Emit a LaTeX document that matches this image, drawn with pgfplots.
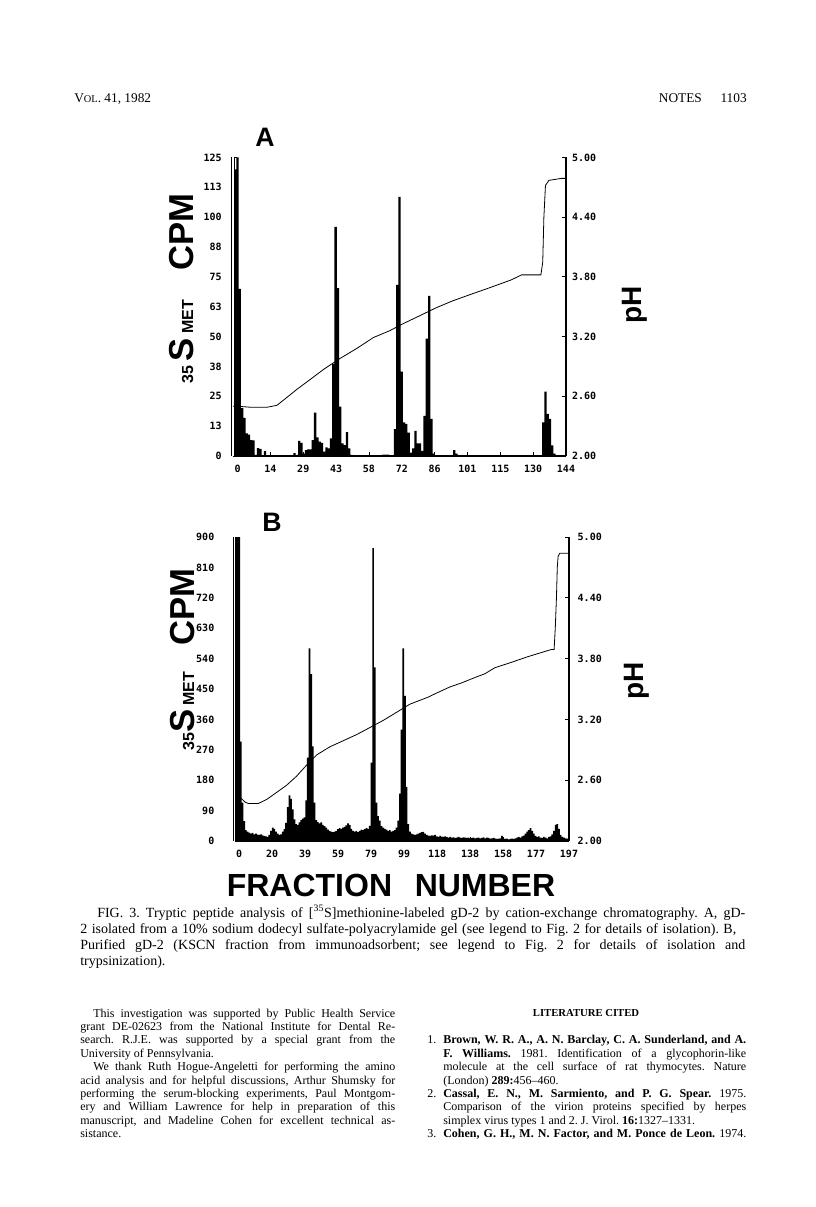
\documentclass[border=0pt]{standalone}
\usepackage{fontspec}
\setmainfont{Liberation Serif}
\newfontfamily\hv{Liberation Sans}
\newfontfamily\tkf{DejaVu Sans Mono}
\usepackage{pgfplots}
\pgfplotsset{compat=1.18}

\newcommand{\tickfont}{\tkf\bfseries\fontsize{7.5}{8}\selectfont}
\newcommand{\lbl}[1]{{\hv\bfseries\fontsize{26}{26}\selectfont #1}}
\newcommand{\sml}[1]{{\hv\bfseries\fontsize{12}{12}\selectfont #1}}

\pgfplotsset{
  chrom/.style={scale only axis, axis x line=bottom, axis y line=left,
    axis line style={-, line width=0.9pt},
    y axis line style={double, double distance=1.3pt, line width=0.6pt},
    tick align=inside, major tick length=3.2pt,
    every tick/.style={black, line width=0.6pt},
    ticklabel style={font=\tickfont}, xticklabel style={yshift=-3pt}},
  phax/.style={scale only axis, axis x line=none, axis y line=right,
    axis line style={-, line width=0.9pt}, tick align=inside, major tick length=3pt,
    every tick/.style={black, line width=0.6pt},
    ymin=2, ymax=5, xtick=\empty,
    ytick={2,2.6,3.2,3.8,4.4,5}, yticklabels={2.00,2.60,3.20,3.80,4.40,5.00},
    ticklabel style={font=\tickfont}},
}

\begin{document}
\frenchspacing
\begin{tikzpicture}
\begin{scope}[x=0.75pt,y=-0.75pt]
\fill[white] (0,0) rectangle (816,1207);
\coordinate (A0) at (233,456);
\coordinate (B0) at (235,841);

% running head
\node[anchor=base west, inner sep=0, font=\fontsize{10}{12}\selectfont] at (74,102) {V{\fontsize{7.8}{9}\selectfont OL}. 41, 1982};
\node[anchor=base east, inner sep=0, font=\fontsize{10}{12}\selectfont] at (747,102) {NOTES\hspace{14pt}1103};

% panel letters and axis titles
\node[font=\hv\bfseries\fontsize{20}{20}\selectfont] at (265,137) {A};
\node[font=\hv\bfseries\fontsize{20}{20}\selectfont] at (272,522) {B};
\node[rotate=90, anchor=base west, inner sep=0] at (193,384) {\sml{35}\hspace{3pt}\lbl{S}\hspace{4pt}\sml{MET}\hspace{22pt}\lbl{CPM}};
\node[rotate=90, anchor=base west, inner sep=0] at (194,751) {\sml{35}\lbl{S}\hspace{3pt}\sml{MET}\hspace{20pt}\lbl{CPM}};
\node[rotate=90, font=\hv\bfseries\fontsize{21}{21}\selectfont] at (635,305) {pH};
\node[rotate=90, font=\hv\bfseries\fontsize{21}{21}\selectfont] at (637,681) {pH};
\node[font=\hv\bfseries\fontsize{24}{24}\selectfont] at (391,885) {FRACTION\hspace{17pt}NUMBER};

% caption
\begin{scope}[every node/.style={anchor=base west, inner sep=0, font=\fontsize{10.5}{12}\selectfont}]
\node at (97,917) {\makebox[486pt][s]{FIG. 3. Tryptic peptide analysis of [\textsuperscript{35}S]methionine-labeled gD-2 by cation-exchange chromatography. A, gD-}};
\node at (80,933.3) {\makebox[492pt][s]{2 isolated from a 10\% sodium dodecyl sulfate-polyacrylamide gel (see legend to Fig. 2 for details of isolation). B,}};
\node at (80,949.6) {\makebox[498.75pt][s]{Purified gD-2 (KSCN fraction from immunoadsorbent; see legend to Fig. 2 for details of isolation and}};
\node at (80,965.9) {trypsinization).};
\end{scope}

% left column
\begin{scope}[every node/.style={anchor=base west, inner sep=0, font=\fontsize{9}{10}\selectfont}]
\node at (93,1017) {\makebox[226.5pt][s]{This investigation was supported by Public Health Service}};
\node at (80,1030.4) {\makebox[236.25pt][s]{grant DE-02623 from the National Institute for Dental Re-}};
\node at (80,1043.8) {\makebox[236.25pt][s]{search. R.J.E. was supported by a special grant from the}};
\node at (80,1057.2) {University of Pennsylvania.};
\node at (93,1070.6) {\makebox[226.5pt][s]{We thank Ruth Hogue-Angeletti for performing the amino}};
\node at (80,1084) {\makebox[236.25pt][s]{acid analysis and for helpful discussions, Arthur Shumsky for}};
\node at (80,1097.4) {\makebox[236.25pt][s]{performing the serum-blocking experiments, Paul Montgom-}};
\node at (80,1110.8) {\makebox[236.25pt][s]{ery and William Lawrence for help in preparation of this}};
\node at (80,1124.2) {\makebox[236.25pt][s]{manuscript, and Madeline Cohen for excellent technical as-}};
\node at (80,1137.6) {sistance.};
% right column
\node[anchor=base, font=\bfseries\fontsize{8}{10}\selectfont] at (586,1016) {LITERATURE CITED};
\node at (427,1043.8) {1.};
\node at (443,1043.8) {\makebox[227.25pt][s]{\textbf{Brown, W. R. A., A. N. Barclay, C. A. Sunderland, and A.}}};
\node at (443,1057.2) {\makebox[227.25pt][s]{\textbf{F. Williams.} 1981. Identification of a glycophorin-like}};
\node at (443,1070.6) {\makebox[227.25pt][s]{molecule at the cell surface of rat thymocytes. Nature}};
\node at (443,1084) {(London) \textbf{289:}456--460.};
\node at (427,1097.4) {2.};
\node at (443,1097.4) {\makebox[227.25pt][s]{\textbf{Cassal, E. N., M. Sarmiento, and P. G. Spear.} 1975.}};
\node at (443,1110.8) {\makebox[227.25pt][s]{Comparison of the virion proteins specified by herpes}};
\node at (443,1124.2) {simplex virus types 1 and 2. J. Virol. \textbf{16:}1327--1331.};
\node at (427,1137.6) {3.};
\node at (443,1137.6) {\makebox[227.25pt][s]{\textbf{Cohen, G. H., M. N. Factor, and M. Ponce de Leon.} 1974.}};
\end{scope}
\end{scope}

% ---------- panel A ----------
\begin{axis}[chrom, at={(A0)}, anchor=south west, width=249.75pt, height=223.9pt,
  xmin=-2, xmax=144, ymin=0, ymax=125,
  xtick={0,14.4,28.8,43.2,57.6,72,86.4,100.8,115.2,129.6,144},
  xticklabels={0,14,29,43,58,72,86,101,115,130,144},
  ytick={0,12.5,25,37.5,50,62.5,75,87.5,100,112.5,125},
  yticklabels={0,13,25,38,50,63,75,88,100,113,125},
  yticklabel style={xshift=-5pt}]
\addplot[ybar, bar width=1, fill=black, draw=none] coordinates {
(-1,120) (0,125) (1,70) (2,20) (3,16) (4,9.5) (5,9) (6,6.7) (7,6.5) (8,0.5)
(9,3.3) (10,3) (11,0.3) (12,2) (25,1.2) (26,0.5) (27,6.3) (28,5.5) (29,1)
(30,2.5) (31,2.8) (32,2.8) (33,6.7) (34,18.2) (35,7.8) (36,6) (37,5.5) (38,1.8)
(39,3.6) (40,3.2) (41,7.4) (42,38.6) (43,95.9) (44,70.3) (45,20.7) (46,5.3)
(47,4.6) (48,10) (49,3.2) (50,0.5) (64,0.6) (65,0.6) (66,0.6)
(69,11.3) (70,71.7) (71,108.5) (72,35.3) (73,14.1) (74,13.5) (75,9.8) (76,1.4)
(77,3.2) (78,10.5) (79,5.3) (80,5.3) (81,2.1) (82,16.8) (83,49.1) (84,67.1)
(85,15.5) (86,1) (95,2.5) (96,1)
(134,14.1) (135,27) (136,17.6) (137,15.6) (138,4.5) (139,1)
};
\end{axis}
\begin{axis}[phax, at={(A0)}, anchor=south west, width=249.75pt, height=223.9pt,
  xmin=-2, xmax=144, yticklabel style={xshift=1pt}]
\addplot[black, line width=0.6pt] coordinates {
(-2,2.50) (0,2.50) (5.7,2.49) (13,2.49) (17.3,2.51) (21.7,2.59) (26,2.67)
(31.9,2.77) (37.7,2.87) (44.9,2.98) (52.2,3.08) (59.5,3.19) (66.8,3.26)
(72.6,3.33) (79.9,3.41) (87.1,3.49) (94.4,3.56) (101.7,3.62) (110.4,3.69)
(120,3.77) (124.5,3.82) (133,3.82) (133.8,3.95) (134.3,4.40) (135,4.72)
(136.5,4.77) (142,4.79) (144,4.79)
};
\end{axis}

% ---------- panel B ----------
\begin{axis}[chrom, at={(B0)}, anchor=south west, width=250.5pt, height=228pt,
  xmin=-2.5, xmax=197, ymin=0, ymax=900,
  xtick={0,19.7,39.4,59.1,78.8,98.5,118.2,137.9,157.6,177.3,197},
  xticklabels={0,20,39,59,79,99,118,138,158,177,197},
  ytick={0,90,180,270,360,450,540,630,720,810,900},
  yticklabels={0,90,180,270,360,450,540,630,720,810,900},
  yticklabel style={xshift=-12pt}]
\addplot[ybar, bar width=1, fill=black, draw=none] coordinates {
(-2,900) (-1,900) (0,900) (1,294) (2,114) (3,59) (4,32) (5,28) (6,25) (7,22)
(8,24) (9,20) (10,22) (11,19) (12,18) (13,20) (14,17) (15,15) (16,14) (17,12)
(18,18) (19,30) (20,40) (21,36) (22,28) (23,22) (24,18) (25,20) (26,28) (27,35)
(28,54) (29,100) (30,135) (31,125) (32,94) (33,64) (34,50) (35,48) (36,55) (37,62)
(38,66) (39,70) (40,120) (41,247) (42,570) (43,494) (44,280) (45,114) (46,62) (47,56)
(48,52) (49,55) (50,48) (51,44) (52,40) (53,34) (54,30) (55,28) (56,26) (57,28)
(58,30) (59,35) (60,38) (61,36) (62,40) (63,42) (64,46) (65,52) (66,48) (67,36)
(68,30) (69,28) (70,30) (71,26) (72,30) (73,34) (74,32) (75,35) (76,38) (77,36)
(78,45) (79,232) (80,867) (81,514) (82,114) (83,74) (84,60) (85,44) (86,40) (87,36)
(88,34) (89,30) (90,32) (91,28) (92,30) (93,32) (94,40) (95,60) (96,140) (97,330)
(98,570) (99,430) (100,160) (101,50) (102,28) (103,22) (104,20) (105,18) (106,20) (107,22)
(108,24) (109,26) (110,27) (111,22) (112,18) (113,16) (114,15) (115,17) (116,16) (117,18)
(118,14) (119,12) (120,15) (121,13) (122,12) (123,14) (124,12) (125,10) (126,12) (127,10)
(128,11) (129,9) (130,10) (131,12) (132,10) (133,9) (134,11) (135,10) (136,9) (137,10)
(138,8) (139,9) (140,10) (141,8) (142,9) (143,10) (144,8) (145,9) (146,11) (147,8)
(148,10) (149,9) (150,7) (151,8) (152,9) (153,7) (154,6) (155,7) (156,8) (157,15)
(158,7) (159,6) (160,7) (161,5) (162,6) (163,7) (164,6) (165,8) (166,10) (167,12)
(168,10) (169,14) (170,16) (171,22) (172,28) (173,32) (174,38) (175,30) (176,22) (177,15)
(178,12) (179,14) (180,10) (181,9) (182,12) (183,10) (184,8) (185,12) (186,14) (187,20)
(188,30) (189,48) (190,50) (191,36) (192,18) (193,12) (194,10) (195,8) (196,7)
};
\end{axis}
\begin{axis}[phax, at={(B0)}, anchor=south west, width=250.5pt, height=228pt,
  xmin=-2.5, xmax=197, yticklabel style={xshift=3pt}]
\addplot[black, line width=0.6pt] coordinates {
(-2.5,2.46) (0.5,2.43) (3.5,2.385) (5.5,2.37) (11.4,2.37) (16.4,2.41) (22.4,2.48)
(28.3,2.55) (34.3,2.64) (40.3,2.75) (46.3,2.85) (54.2,2.93) (62.2,2.99) (70.1,3.05)
(78.1,3.12) (86,3.19) (94,3.27) (101.9,3.35) (112.9,3.42) (117.9,3.46) (125.8,3.52)
(132.8,3.56) (141.8,3.62) (146.7,3.65) (152.7,3.71) (162,3.76) (172.6,3.82)
(186.5,3.89) (188.1,3.89) (188.8,4.10) (189.5,4.40) (190,4.70) (190.5,4.81)
(191.5,4.84) (197,4.84)
};
\end{axis}
\end{tikzpicture}
\end{document}
